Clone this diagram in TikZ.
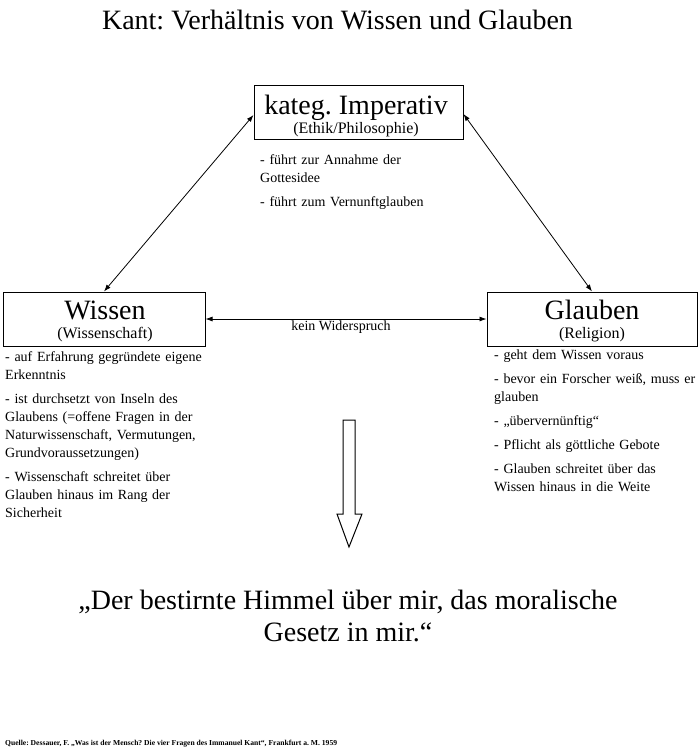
\documentclass[tikz,border=0pt]{standalone}
\usepackage{fontspec}
\setmainfont{Liberation Serif}
\usetikzlibrary{arrows.meta}
\frenchspacing
\begin{document}
\begin{tikzpicture}[x=1pt,y=-1pt,
  box/.style={draw,line width=1pt,minimum width=#1,minimum height=54pt,inner sep=0pt},
  big/.style={anchor=base,inner sep=0pt,font=\fontsize{28}{32}\selectfont},
  sub/.style={anchor=base,inner sep=0pt,font=\fontsize{16}{18}\selectfont},
  notes/.style={anchor=north west,inner sep=0pt,text width=260pt,align=left,font=\fontsize{14}{18}\selectfont},
  conn/.style={line width=0.8pt,{Latex[length=7pt,width=5pt]}-{Latex[length=7pt,width=5pt]}}]
\useasboundingbox (0,0) rectangle (700,750);
% title
\node[big] (title) at (337.5,29) {Kant: Verhältnis von Wissen und Glauben};
% boxes
\node[box=209pt] (kateg) at (358.5,112) {};
\node[box=202pt] (wissen) at (104,319) {};
\node[box=210pt] (glauben) at (592,319) {};
\node[big] (kt1) at (356,114) {kateg. Imperativ};
\node[sub] (kt2) at (356,133) {(Ethik/Philosophie)};
\node[big] (wt1) at (105,319) {Wissen};
\node[sub] (wt2) at (105,338) {(Wissenschaft)};
\node[big] (gt1) at (592,319) {Glauben};
\node[sub] (gt2) at (592,338) {(Religion)};
% connectors
\draw[conn] ([yshift=-3pt]kateg.west) -- (wissen.north);
\draw[conn] ([yshift=-2pt]kateg.east) -- (glauben.north);
\draw[conn] (wissen.east) -- (glauben.west);
\node[anchor=base,inner sep=0pt,font=\fontsize{14}{16}\selectfont] (kw) at (341,330) {kein Widerspruch};
% notes
\node[notes] (kn) at (260,154) {\noindent\rule{0pt}{10pt}- führt zur Annahme der\\Gottesidee\\[6pt]- führt zum Vernunftglauben};
\node[notes] (wn) at (5,351) {\noindent\rule{0pt}{10pt}- auf Erfahrung gegründete eigene\\Erkenntnis\\[6pt]- ist durchsetzt von Inseln des\\Glaubens (=offene Fragen in der\\Naturwissenschaft, Vermutungen,\\Grundvoraussetzungen)\\[6pt]- Wissenschaft schreitet über\\Glauben hinaus im Rang der\\Sicherheit};
\node[notes] (gn) at (494,349) {\noindent\rule{0pt}{10pt}- geht dem Wissen voraus\\[6pt]- bevor ein Forscher weiß, muss er\\glauben\\[6pt]- „übervernünftig“\\[6pt]- Pflicht als göttliche Gebote\\[6pt]- Glauben schreitet über das\\Wissen hinaus in die Weite};
% block arrow
\draw[line width=1pt,line join=miter] (343,420) -- (355,420) -- (355,514) -- (362,514) -- (349,547) -- (337,514) -- (343,514) -- cycle;
% quote
\node[big] (q1) at (348,609) {„Der bestirnte Himmel über mir, das moralische};
\node[big] (q2) at (348,641) {Gesetz in mir.“};
% source
\node[anchor=base west,inner sep=0pt,font=\fontsize{7.6}{8}\selectfont\bfseries] (src) at (5,745) {Quelle: Dessauer, F. „Was ist der Mensch? Die vier Fragen des Immanuel Kant“, Frankfurt a. M. 1959};
\end{tikzpicture}
\end{document}
